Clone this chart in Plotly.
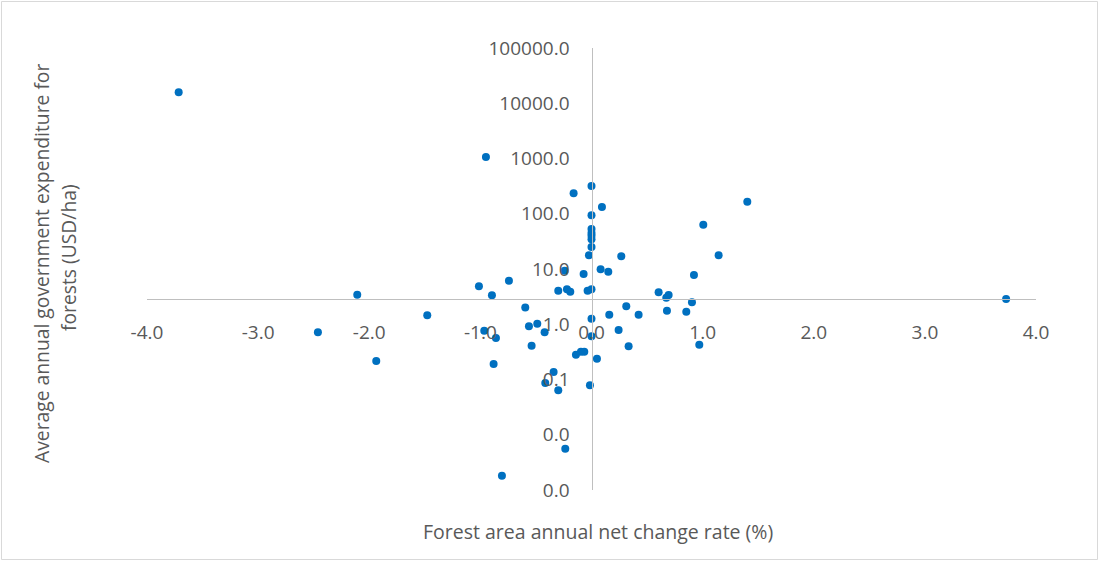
import math

import plotly.graph_objects as go

# Forest area annual net change rate (%) and average annual government
# expenditure on forests (USD/ha), one point per country
change_rate = [
    -3.715, -2.462, -2.108, -1.937, -1.478, -1.013, -0.965, -0.950, -0.896, -0.881,
    -0.860, -0.806, -0.743, -0.596, -0.563, -0.539, -0.488, -0.422, -0.416, -0.341,
    -0.299, -0.299, -0.242, -0.236, -0.221, -0.191, -0.161, -0.140, -0.095, -0.065,
    -0.071, -0.035, -0.023, -0.014,
    0.0, 0.0, 0.0, 0.0, 0.0, 0.0, 0.0, 0.0, 0.0, 0.0,
    0.049, 0.082, 0.094, 0.151, 0.160, 0.244, 0.268, 0.313, 0.334, 0.424,
    0.604, 0.673, 0.679, 0.694, 0.853, 0.904, 0.922, 0.970, 1.006, 1.144,
    1.402, 3.731,
]
expenditure = [
    15800, 0.715, 3.43, 0.216, 1.45, 4.85, 0.764, 1065, 3.34, 0.191,
    0.564, 0.00181, 6.15, 2.0, 0.918, 0.409, 1.02, 0.715, 0.0865, 0.137,
    4.05, 0.0637, 9.3, 0.0056, 4.3, 3.88, 234, 0.281, 0.318, 0.318,
    8.1, 4.05, 17.7, 0.079,
    318, 94, 53, 45, 40, 34.5, 25, 4.3, 1.26, 0.604,
    0.238, 9.9, 132, 8.9, 1.49, 0.787, 17.0, 2.11, 0.398, 1.49,
    3.79, 3.03, 1.76, 3.38, 1.69, 2.49, 7.8, 0.426, 63.4, 17.7,
    165, 2.86,
]

x_ticks = [-4, -3, -2, -1, 0, 1, 2, 3, 4]
x_tick_labels = ["-4.0", "-3.0", "-2.0", "-1.0", "0.0", "1.0", "2.0", "3.0", "4.0"]
y_ticks = [0.001, 0.01, 0.1, 1, 10, 100, 1000, 10000, 100000]
y_tick_labels = ["0.0", "0.0", "0.1", "1.0", "10.0", "100.0", "1000.0", "10000.0", "100000.0"]

y_title_lines = ["Average annual government expenditure for", "forests (USD/ha)"]
x_title = "Forest area annual net change rate (%)"

X_RANGE = [-4, 4]
Y_LOG_RANGE = [-3, 5]
X_AXIS_CROSSES_AT = 2.86  # horizontal axis crosses the log scale here

x_axis_pos = (math.log10(X_AXIS_CROSSES_AT) - Y_LOG_RANGE[0]) / (Y_LOG_RANGE[1] - Y_LOG_RANGE[0])
y_axis_pos = (0 - X_RANGE[0]) / (X_RANGE[1] - X_RANGE[0])

FONT = "Open Sans"
GREY = "#595959"
AXIS_GREY = "#BFBFBF"

W, H = 1099, 561
L, R, T, B = 147, 63, 48, 71
PW, PH = W - L - R, H - T - B


def px_x(p):
    return (p - L) / PW


def px_y(p):
    return (H - B - p) / PH


fig = go.Figure(
    go.Scatter(
        x=change_rate,
        y=expenditure,
        mode="markers",
        marker=dict(size=8, color="#0070C0", line=dict(width=0)),
        showlegend=False,
    )
)

tick_font = dict(size=19, color=GREY, family=FONT)

fig.update_layout(
    width=W,
    height=H,
    margin=dict(l=L, r=R, t=T, b=B),
    paper_bgcolor="white",
    plot_bgcolor="white",
    font=dict(family=FONT, color=GREY, size=19),
    xaxis=dict(
        range=X_RANGE,
        tickvals=x_ticks,
        ticktext=x_tick_labels,
        showgrid=False,
        zeroline=False,
        showline=True,
        linecolor=AXIS_GREY,
        linewidth=1.3,
        ticks="",
        anchor="free",
        position=x_axis_pos,
        ticklabelstandoff=16,
        tickfont=tick_font,
    ),
    yaxis=dict(
        type="log",
        range=Y_LOG_RANGE,
        tickvals=y_ticks,
        ticktext=y_tick_labels,
        showgrid=False,
        zeroline=False,
        showline=True,
        linecolor=AXIS_GREY,
        linewidth=1.3,
        ticks="",
        anchor="free",
        position=y_axis_pos,
        ticklabelstandoff=18,
        tickfont=tick_font,
    ),
    annotations=[
        dict(
            text=y_title_lines[0],
            textangle=-90,
            xref="paper", yref="paper",
            x=px_x(41), y=px_y(264),
            xanchor="center", yanchor="middle",
            showarrow=False,
            font=dict(size=19.3, color=GREY, family=FONT),
        ),
        dict(
            text=y_title_lines[1],
            textangle=-90,
            xref="paper", yref="paper",
            x=px_x(68), y=px_y(258),
            xanchor="center", yanchor="middle",
            showarrow=False,
            font=dict(size=19.3, color=GREY, family=FONT),
        ),
        dict(
            text=x_title,
            xref="paper", yref="paper",
            x=px_x(598), y=px_y(531),
            xanchor="center", yanchor="middle",
            showarrow=False,
            font=dict(size=19.5, color=GREY, family=FONT),
        ),
    ],
    shapes=[
        dict(
            type="rect",
            xref="paper", yref="paper",
            x0=px_x(1.5), x1=px_x(1097.5),
            y0=px_y(559.5), y1=px_y(1.5),
            line=dict(color="#D9D9D9", width=1),
            fillcolor="rgba(0,0,0,0)",
            layer="below",
        )
    ],
)

fig.write_html("out.html")
